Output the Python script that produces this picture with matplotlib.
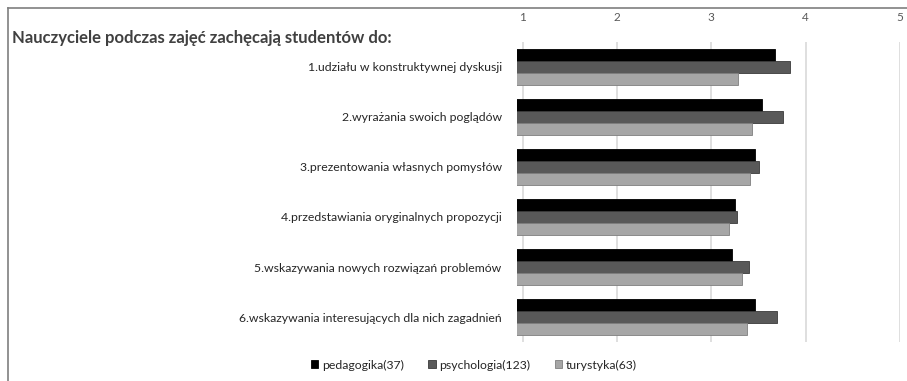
import numpy as np
import matplotlib.pyplot as plt
from matplotlib.lines import Line2D

plt.rcParams['font.family'] = ['Lato', 'DejaVu Sans']

categories = [
    '1.udziału w konstruktywnej dyskusji',
    '2.wyrażania swoich poglądów',
    '3.prezentowania własnych pomysłów',
    '4.przedstawiania oryginalnych propozycji',
    '5.wskazywania nowych rozwiązań problemów',
    '6.wskazywania interesujących dla nich zagadnień',
]
series_names = ['pedagogika(37)', 'psychologia(123)', 'turystyka(63)']
pedagogika = [3.68, 3.54, 3.46, 3.25, 3.22, 3.46]
psychologia = [3.83, 3.76, 3.51, 3.27, 3.40, 3.70]
turystyka = [3.28, 3.43, 3.41, 3.19, 3.32, 3.38]
x_ticks = [1, 2, 3, 4, 5]

colors = ['#000000', '#595959', '#a6a6a6']
edges = ['#000000', '#3a3a3a', '#7f7f7f']

fig = plt.figure(figsize=(9.07, 3.81), dpi=100)
ax = fig.add_axes([517 / 907, 1 - 342 / 381, 383 / 907, 300 / 381])

y = np.arange(len(categories))
h = 0.235
for i, (vals, name) in enumerate(zip([pedagogika, psychologia, turystyka], series_names)):
    ax.barh(y + (i - 1) * h, vals, height=h, color=colors[i],
            edgecolor=edges[i], linewidth=0.6, label=name, zorder=3)

ax.set_xlim(0.94, 5)
ax.set_ylim(len(categories) - 0.5, -0.5)
ax.set_xticks(x_ticks)
ax.xaxis.tick_top()
ax.tick_params(axis='x', length=0, pad=14, labelsize=8.5, labelcolor='#595959')
ax.set_yticks(y)
ax.set_yticklabels(categories)
ax.tick_params(axis='y', length=0, pad=11, labelsize=8.8, labelcolor='#262626')
ax.grid(axis='x', color='#d9d9d9', linewidth=1.2, zorder=0)
for s in ax.spines.values():
    s.set_visible(False)

fig.text(12 / 907, 1 - 38 / 381, 'Nauczyciele podczas zajęć zachęcają studentów do:',
         fontsize=12, fontweight='bold', color='#404040', va='center', ha='left')

ax.legend(loc='center', bbox_to_anchor=(474 / 907, 1 - 365 / 381),
          bbox_transform=fig.transFigure, ncol=3, frameon=False, fontsize=8.8,
          handlelength=0.6, handleheight=0.6, handletextpad=0.3, columnspacing=2.0,
          labelcolor='#262626')

fig.add_artist(Line2D([8 / 907, 8 / 907], [0, 1 - 8 / 381], color='#7f7f7f', lw=1.2))
fig.add_artist(Line2D([8 / 907, 1], [1 - 8 / 381, 1 - 8 / 381], color='#7f7f7f', lw=1.2))

fig.savefig('out.png', dpi=100)
